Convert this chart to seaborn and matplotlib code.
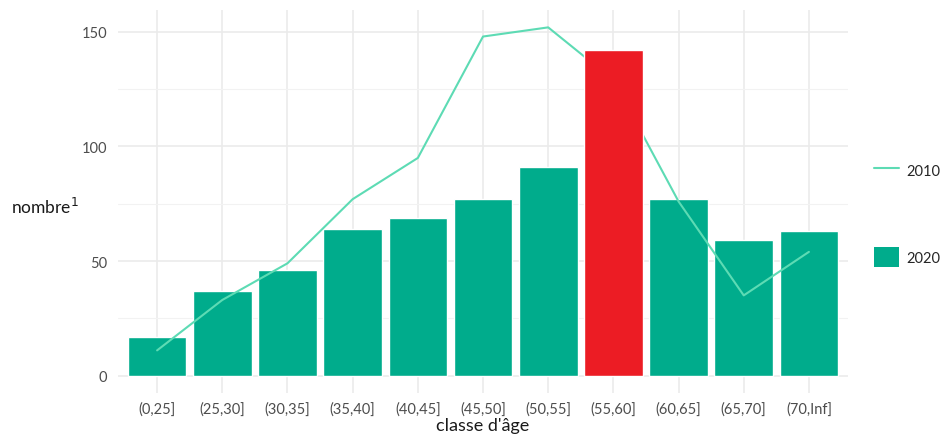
import matplotlib
matplotlib.use("Agg")
import matplotlib.pyplot as plt
from matplotlib.lines import Line2D
from matplotlib.patches import Patch
from matplotlib.ticker import MultipleLocator
import seaborn as sns

## donnees
classes = ['(0,25]', '(25,30]', '(30,35]', '(35,40]', '(40,45]', '(45,50]',
           '(50,55]', '(55,60]', '(60,65]', '(65,70]', '(70,Inf]']
n_2020 = [17, 37, 46, 64, 69, 77, 91, 142, 77, 59, 63]
n_2010 = [11, 33, 49, 77, 95, 148, 152, 129, 76, 35, 54]
highlight = '(55,60]'

green = '#00AC8C'
red = '#EC1C24'
line_col = '#5DDBB4'

sns.set_theme(style='whitegrid')
plt.rcParams['font.family'] = ['Lato', 'DejaVu Sans']

fig = plt.figure(figsize=(9.41, 4.35), dpi=100)
ax = fig.add_axes([0.1254, 0.0943, 0.7758, 0.8805])

palette = {c: (red if c == highlight else green) for c in classes}
sns.barplot(x=classes, y=n_2020, hue=classes, palette=palette, legend=False,
            width=0.9, saturation=1, ax=ax)
sns.lineplot(x=classes, y=n_2010, color=line_col, linewidth=1.5, sort=False, ax=ax)

## barres vertes sous la ligne, barre rouge au-dessus
for p in ax.patches:
    p.set_zorder(2)
ax.patches[classes.index(highlight)].set_zorder(4)
for l in ax.lines:
    l.set_zorder(3)

ax.set_xlim(-0.6, 10.6)
ax.set_ylim(-7.6, 159.6)
ax.yaxis.set_major_locator(MultipleLocator(50))
ax.yaxis.set_minor_locator(MultipleLocator(25))
ax.grid(which='major', color='#EBEBEB', linewidth=1.2)
ax.grid(which='minor', axis='y', color='#F2F2F2', linewidth=0.8)
ax.set_axisbelow(True)
for s in ax.spines.values():
    s.set_visible(False)
ax.tick_params(axis='both', which='both', length=0, colors='#4D4D4D', labelsize=10.5)
ax.tick_params(axis='y', pad=8)
ax.tick_params(axis='x', pad=6)

ax.set_xlabel("classe d'âge", fontsize=13, color='#1A1A1A', labelpad=1)
ax.set_ylabel('')
fig.text(0.012, 0.524, 'nombre$^1$', fontsize=12.5, color='#1A1A1A',
         ha='left', va='center')

handles = [Line2D([], [], color=line_col, linewidth=1.5),
           Patch(facecolor=green, edgecolor='none')]
fig.legend(handles, ['2010', '2020'], loc='center left',
           bbox_to_anchor=(0.929, 0.506), frameon=False, fontsize=10.5,
           handlelength=1.7, handleheight=1.7, labelspacing=4.6,
           handletextpad=0.5, borderaxespad=0, borderpad=0)

fig.savefig('out.png', dpi=100)
